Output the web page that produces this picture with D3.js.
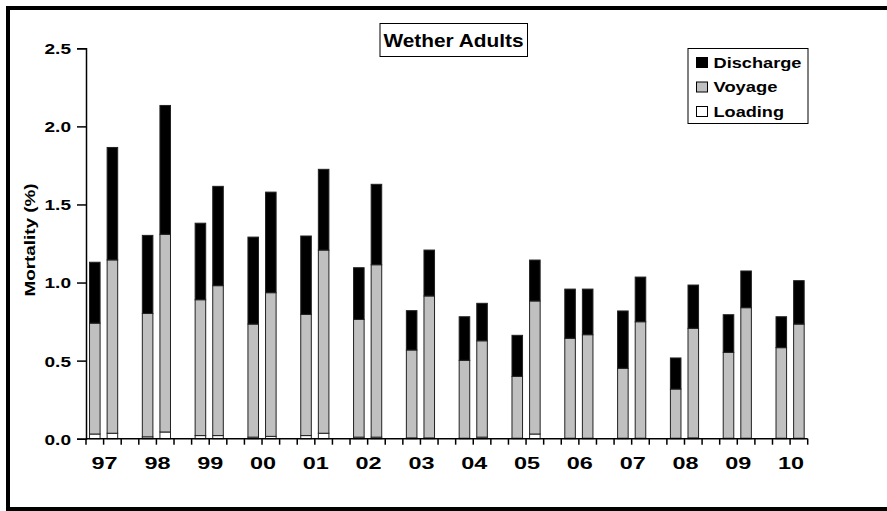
<!DOCTYPE html>
<html>
<head>
<meta charset="utf-8">
<script src="https://cdn.jsdelivr.net/npm/d3@7"></script>
<style>
  html, body { margin: 0; padding: 0; background: #fff; }
  svg { display: block; }
  text { font-family: Arial, "Liberation Sans", sans-serif; font-weight: bold; fill: #000; }
</style>
</head>
<body>
<svg id="chart" width="887" height="511"></svg>
<script>
// Two consignments per year, stacked by stage of the journey.
const years = ["97","98","99","00","01","02","03","04","05","06","07","08","09","10"];
const barsPerYear = 2;

// Values in year order: first bar, second bar, first bar, second bar ...
const loading = [0.03, 0.035, 0.012, 0.043, 0.02, 0.02, 0.01, 0.015, 0.02, 0.035,
                 0.01, 0.01, 0.005, 0.005, 0.003, 0.01, 0.003, 0.03, 0.003, 0.003,
                 0.003, 0.003, 0.003, 0.005, 0.003, 0.003, 0.003, 0.003];
const voyage = [0.71, 1.11, 0.79, 1.266, 0.87, 0.96, 0.724, 0.92, 0.776, 1.173,
                0.754, 1.104, 0.563, 0.909, 0.499, 0.617, 0.396, 0.852, 0.64, 0.663,
                0.448, 0.746, 0.315, 0.702, 0.55, 0.836, 0.58, 0.731];
const discharge = [0.39, 0.72, 0.50, 0.825, 0.49, 0.636, 0.557, 0.644, 0.502, 0.517,
                   0.331, 0.515, 0.252, 0.294, 0.279, 0.24, 0.263, 0.262, 0.315, 0.292,
                   0.367, 0.286, 0.199, 0.277, 0.241, 0.235, 0.198, 0.278];

const seriesNames = ["Loading", "Voyage", "Discharge"];
const seriesFill = { Loading: "#ffffff", Voyage: "#c0c0c0", Discharge: "#000000" };
const legendOrder = ["Discharge", "Voyage", "Loading"];
const yTicks = [0, 0.5, 1.0, 1.5, 2.0, 2.5];

// Category slots: two bars per year with an empty slot between years.
const slots = [];
const rows = [];
years.forEach((yr, i) => {
  for (let j = 0; j < barsPerYear; j++) {
    const k = i * barsPerYear + j;
    const key = yr + "-" + j;
    slots.push(key);
    rows.push({ key, Loading: loading[k], Voyage: voyage[k], Discharge: discharge[k] });
  }
  if (i < years.length - 1) slots.push("gap-" + yr);
});

const svg = d3.select("#chart");
const plotLeft = 86, plotRight = 807.7, plotTop = 48.3, plotBottom = 438.7;

const x = d3.scaleBand().domain(slots).range([plotLeft, plotRight]).paddingInner(0.4).paddingOuter(0.2);
const step = (plotRight - plotLeft) / slots.length;
const y = d3.scaleLinear().domain([0, 2.5]).range([plotBottom, plotTop]);

// Outer frame
svg.append("rect")
  .attr("x", 8).attr("y", 8).attr("width", 895).attr("height", 501)
  .attr("fill", "none").attr("stroke", "#000").attr("stroke-width", 4);

// Stacked bars
const stacked = d3.stack().keys(seriesNames)(rows);
svg.append("g").selectAll("g")
  .data(stacked).join("g")
  .attr("fill", d => seriesFill[d.key])
  .selectAll("rect")
  .data(d => d).join("rect")
  .attr("x", d => x(d.data.key))
  .attr("width", x.bandwidth())
  .attr("y", d => y(d[1]))
  .attr("height", d => y(d[0]) - y(d[1]))
  .attr("stroke", "#222").attr("stroke-width", 1);

// Y axis
const yAxis = svg.append("g").attr("transform", `translate(${plotLeft},0)`)
  .call(d3.axisLeft(y).tickValues(yTicks).tickFormat(d3.format(".1f")).tickSize(9).tickPadding(6));
yAxis.select(".domain").attr("stroke", "#000").attr("stroke-width", 1.5);
yAxis.selectAll(".tick line").attr("stroke", "#000").attr("stroke-width", 1.5);
yAxis.selectAll(".tick text")
  .attr("font-size", 15).attr("dy", "0.36em")
  .attr("textLength", 26.5).attr("lengthAdjust", "spacingAndGlyphs")
  .style("font-family", "Arial, 'Liberation Sans', sans-serif").style("font-weight", "bold");

// X axis: ticks at every slot boundary, labels between each year's pair of bars
const xAxisG = svg.append("g");
xAxisG.append("line")
  .attr("x1", plotLeft).attr("x2", plotRight).attr("y1", plotBottom).attr("y2", plotBottom)
  .attr("stroke", "#000").attr("stroke-width", 1.5);
const boundaries = d3.range(slots.length + 1).map(i => plotLeft + i * step);
xAxisG.selectAll(".xt").data(boundaries).join("line")
  .attr("x1", d => d).attr("x2", d => d)
  .attr("y1", plotBottom).attr("y2", plotBottom + 6)
  .attr("stroke", "#000").attr("stroke-width", 1.5);
xAxisG.selectAll(".xl").data(years).join("text")
  .attr("x", yr => (x(yr + "-0") + x(yr + "-1") + x.bandwidth()) / 2 + 1)
  .attr("y", 469)
  .attr("text-anchor", "middle")
  .attr("font-size", 16)
  .attr("textLength", 26).attr("lengthAdjust", "spacingAndGlyphs")
  .text(d => d);

// Y axis title
svg.append("text")
  .attr("transform", "translate(35,240) rotate(-90)")
  .attr("text-anchor", "middle")
  .attr("font-size", 15)
  .attr("textLength", 113).attr("lengthAdjust", "spacingAndGlyphs")
  .text("Mortality (%)");

// Title box
svg.append("rect")
  .attr("x", 380).attr("y", 23.5).attr("width", 147.5).attr("height", 33)
  .attr("fill", "#fff").attr("stroke", "#000").attr("stroke-width", 1);
svg.append("text")
  .attr("x", 453.5).attr("y", 46.5)
  .attr("text-anchor", "middle")
  .attr("font-size", 18.5)
  .attr("textLength", 140).attr("lengthAdjust", "spacingAndGlyphs")
  .text("Wether Adults");

// Legend
svg.append("rect")
  .attr("x", 688).attr("y", 48.5).attr("width", 120).attr("height", 75)
  .attr("fill", "#fff").attr("stroke", "#000").attr("stroke-width", 1);
const legendWidths = { Discharge: 88, Voyage: 64, Loading: 70.5 };
const legend = svg.append("g").selectAll("g")
  .data(legendOrder).join("g")
  .attr("transform", (d, i) => `translate(0,${i * 24.5})`);
legend.append("rect")
  .attr("x", 696.5).attr("y", 57.5).attr("width", 11).attr("height", 10)
  .attr("fill", d => seriesFill[d]).attr("stroke", "#000").attr("stroke-width", 1);
legend.append("text")
  .attr("x", 713.5).attr("y", 67.8)
  .attr("font-size", 15.5)
  .attr("textLength", d => legendWidths[d]).attr("lengthAdjust", "spacingAndGlyphs")
  .text(d => d);
</script>
</body>
</html>
